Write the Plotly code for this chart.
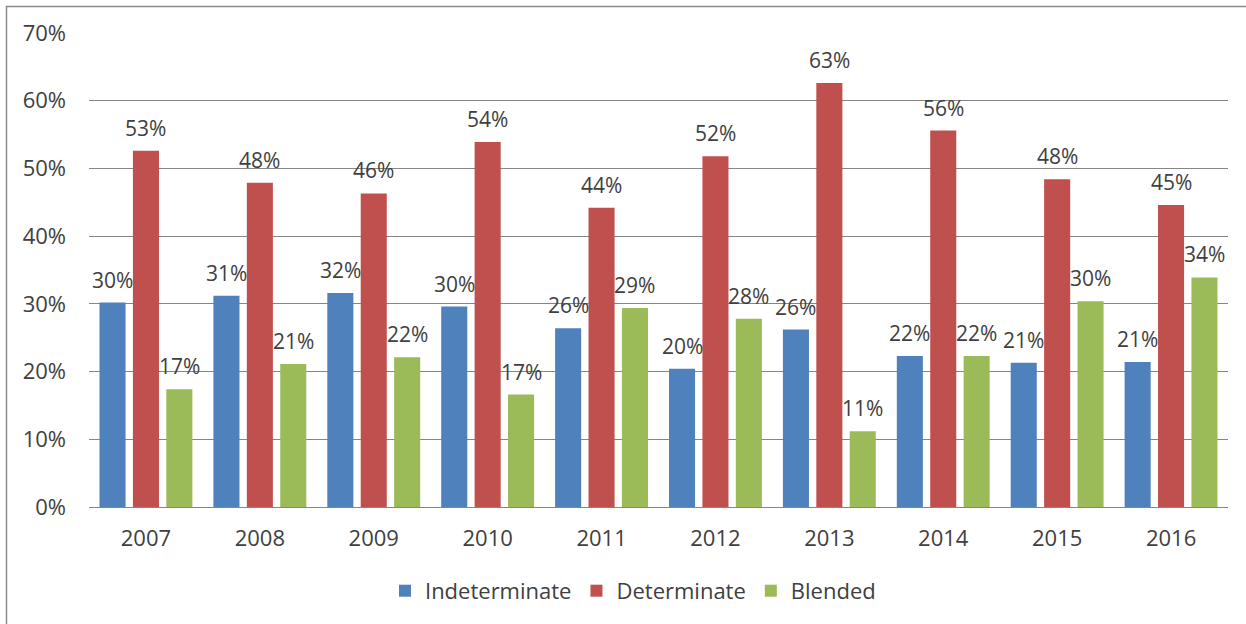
import plotly.graph_objects as go

years = ["2007", "2008", "2009", "2010", "2011", "2012", "2013", "2014", "2015", "2016"]
indeterminate = [0.302, 0.312, 0.316, 0.296, 0.264, 0.204, 0.262, 0.223, 0.213, 0.214]
determinate = [0.526, 0.479, 0.463, 0.539, 0.442, 0.518, 0.626, 0.556, 0.484, 0.446]
blended = [0.174, 0.211, 0.221, 0.166, 0.294, 0.278, 0.112, 0.223, 0.304, 0.339]

series = [
    ("Indeterminate", indeterminate, "#4F81BD"),
    ("Determinate", determinate, "#C0504D"),
    ("Blended", blended, "#9BBB59"),
]

W, H = 1246, 624
ML, MR, MT, MB = 89, 18, 33, 117
BARGAP = 0.12
plot_w = W - ML - MR
slot = plot_w / len(years) * (1 - BARGAP) / len(series)

FONT = "Open Sans"
TXT = "#404040"

fig = go.Figure()
annotations = []
for i, (name, vals, col) in enumerate(series):
    fig.add_trace(go.Bar(x=years, y=vals, name=name, marker=dict(color=col, line=dict(width=0))))
    for j, v in enumerate(vals):
        # category index j on the category axis
        annotations.append(dict(
            x=j, y=v, xref="x", yref="y", text=f"{v:.0%}", showarrow=False,
            xshift=(i - 1) * slot, yshift=23, yanchor="middle",
            font=dict(family=FONT, size=21, color=TXT),
        ))

fig.update_layout(
    width=W, height=H, autosize=False,
    margin=dict(l=ML, r=MR, t=MT, b=MB),
    paper_bgcolor="white", plot_bgcolor="white",
    barmode="group", bargap=BARGAP, bargroupgap=0.22,
    font=dict(family=FONT, size=22, color=TXT),
    annotations=annotations,
    legend=dict(orientation="h", x=0.4776, xanchor="center", y=-0.177, yanchor="middle",
                font=dict(family=FONT, size=22, color=TXT), itemwidth=30),
    shapes=[dict(type="rect", xref="paper", yref="paper",
                 x0=-(ML - 6.5) / plot_w, x1=1.2, y0=-0.5, y1=1 + (MT - 6.5) / (H - MT - MB),
                 line=dict(color="#8a8a8a", width=1.5), layer="below")],
)
fig.update_yaxes(range=[0, 0.7], dtick=0.1, tickformat=".0%", gridcolor="#868686", gridwidth=1,
                 zeroline=True, zerolinecolor="#868686", zerolinewidth=1, showline=False,
                 ticks="", ticklabelstandoff=22, tickfont=dict(family=FONT, size=22, color=TXT))
fig.update_xaxes(type="category", range=[-0.5, len(years) - 0.5], showline=True, linecolor="#868686",
                 linewidth=1, ticks="", ticklabelstandoff=12,
                 tickfont=dict(family=FONT, size=22, color=TXT), showgrid=False)

fig.write_html("out.html")
